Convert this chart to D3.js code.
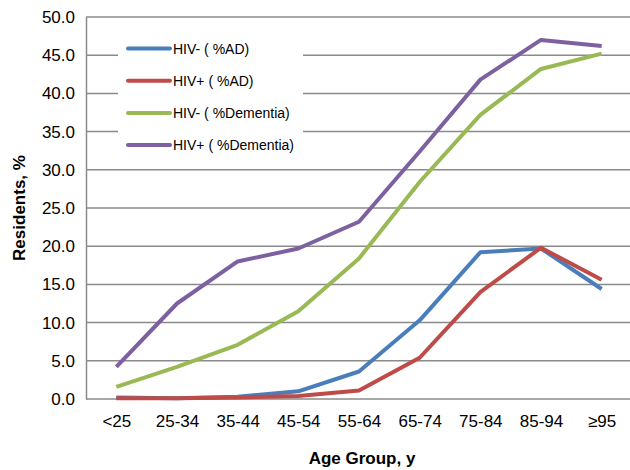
<!DOCTYPE html>
<html>
<head>
<meta charset="utf-8">
<script src="https://cdn.jsdelivr.net/npm/d3@7"></script>
<style>
  body { margin: 0; background: #fff; }
  text { font-family: "Liberation Sans", Arial, sans-serif; fill: #000; }
</style>
</head>
<body>
<div id="chart"></div>
<script>
const categories = ["<25", "25-34", "35-44", "45-54", "55-64", "65-74", "75-84", "85-94", "\u226595"];
const hivNegAD = [0.2, 0.1, 0.3, 1.0, 3.6, 10.3, 19.2, 19.7, 14.4];
const hivPosAD = [0.1, 0.1, 0.2, 0.4, 1.1, 5.4, 14.0, 19.8, 15.6];
const hivNegDementia = [1.6, 4.2, 7.1, 11.5, 18.4, 28.4, 37.2, 43.2, 45.2];
const hivPosDementia = [4.2, 12.5, 18.0, 19.7, 23.2, 32.4, 41.8, 47.0, 46.2];
const yTicks = [0, 5, 10, 15, 20, 25, 30, 35, 40, 45, 50];

const series = [
  {name: "HIV- ( %AD)", values: hivNegAD, color: "#4a7ebb"},
  {name: "HIV+ ( %AD)", values: hivPosAD, color: "#be4b48"},
  {name: "HIV- ( %Dementia)", values: hivNegDementia, color: "#98b954"},
  {name: "HIV+ ( %Dementia)", values: hivPosDementia, color: "#7d60a0"}
];

const width = 630, height = 470;
const plotLeft = 86, plotRight = 632, plotTop = 17, plotBottom = 399;

const svg = d3.select("#chart").append("svg")
  .attr("width", width)
  .attr("height", height);

const x = d3.scalePoint().domain(categories).range([plotLeft, plotRight]).padding(0.5);
const y = d3.scaleLinear().domain([0, 50]).range([plotBottom, plotTop]);

// horizontal grid
svg.append("g").selectAll("line")
  .data(yTicks.filter(t => t > 0))
  .enter().append("line")
  .attr("x1", plotLeft).attr("x2", width)
  .attr("y1", d => y(d)).attr("y2", d => y(d))
  .style("stroke", "#8a8a8a")
  .style("stroke-width", "1.5px");

// y axis
const yAxis = svg.append("g")
  .attr("transform", "translate(" + plotLeft + ",0)")
  .call(d3.axisLeft(y).tickValues(yTicks).tickFormat(d3.format(".1f")).tickSize(0).tickPadding(11));
yAxis.select(".domain").style("stroke", "#8a8a8a").style("stroke-width", "1.5px");
yAxis.selectAll("text").style("font-size", "17px").attr("font-family", null);

// x axis
const xAxis = svg.append("g")
  .attr("transform", "translate(0," + plotBottom + ")")
  .call(d3.axisBottom(x).tickSize(0).tickPadding(16));
xAxis.select(".domain").attr("d", "M" + plotLeft + ",0H" + width)
  .style("stroke", "#8a8a8a").style("stroke-width", "1.5px");
xAxis.selectAll("text").style("font-size", "17px").attr("font-family", null);

// lines
const line = d3.line()
  .x((d, i) => x(categories[i]))
  .y(d => y(d));

svg.append("g").selectAll("path")
  .data(series)
  .enter().append("path")
  .attr("d", d => line(d.values))
  .style("fill", "none")
  .style("stroke", d => d.color)
  .style("stroke-width", "4px")
  .style("stroke-linejoin", "round");

// legend
const legend = svg.append("g");
legend.append("rect")
  .attr("x", 118).attr("y", 31)
  .attr("width", 185).attr("height", 130)
  .style("fill", "#fff");

const items = legend.selectAll(".item")
  .data(series)
  .enter().append("g")
  .attr("class", "item")
  .attr("transform", (d, i) => "translate(0," + (48.5 + i * 32.2) + ")");
items.append("line")
  .attr("x1", 128).attr("x2", 170)
  .attr("y1", 0).attr("y2", 0)
  .style("stroke", d => d.color)
  .style("stroke-width", "4px")
  .style("stroke-linecap", "round");
items.append("text")
  .attr("x", 173).attr("y", 5)
  .style("font-size", "14px")
  .text(d => d.name);

// axis titles
svg.append("text")
  .attr("transform", "translate(25,208) rotate(-90)")
  .attr("text-anchor", "middle")
  .style("font-size", "17px")
  .style("font-weight", "bold")
  .text("Residents, %");

svg.append("text")
  .attr("x", 362).attr("y", 464)
  .attr("text-anchor", "middle")
  .style("font-size", "17px")
  .style("font-weight", "bold")
  .text("Age Group, y");
</script>
</body>
</html>
